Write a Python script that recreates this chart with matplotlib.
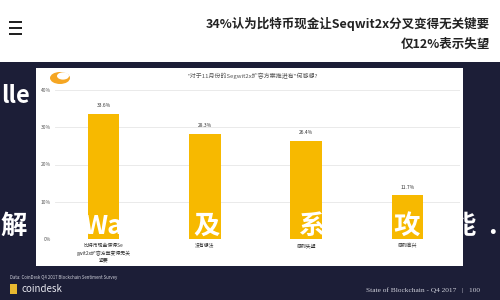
import matplotlib.pyplot as plt
from matplotlib.patches import Rectangle, Circle

plt.rcParams['font.family'] = ['Noto Sans CJK SC', 'DejaVu Sans']

# data
categories = ['比特币现金使得Se\ngwit2x扩容方案变得无关\n紧要', '没有想法', '感到失望', '感到高兴']
values = [33.6, 28.3, 26.4, 11.7]
value_labels = ['33.6%', '28.3%', '26.4%', '11.7%']
yticks = [0, 10, 20, 30, 40]
ytick_labels = ['0%', '10%', '20%', '30%', '40%']
# pieces of the white brush text laid over the slide
overlay_chars = ['解', 'Wa', '及', '系', '攻', '能', '.']
overlay_x = [14, 103, 207, 312, 407, 463, 492]

W, H = 500, 300
fig = plt.figure(figsize=(5, 3), dpi=100)
fig.patch.set_facecolor('white')

def fx(x):
    return x / W

def fy(y):
    return 1 - y / H

navy = '#1c1e37'
yellow = '#f7b900'

# dark slide background under the white header
fig.patches.append(Rectangle((0, 0), 1, fy(62), transform=fig.transFigure,
                             facecolor=navy, edgecolor='none', zorder=0))
# white chart panel
fig.patches.append(Rectangle((fx(36), fy(266)), fx(463 - 36), (266 - 68) / H,
                             transform=fig.transFigure, facecolor='white',
                             edgecolor='none', zorder=1))

# header: menu icon + title
for yy in (22, 28, 34):
    fig.patches.append(Rectangle((fx(9), fy(yy + 1)), fx(13), 2 / H,
                                 transform=fig.transFigure, facecolor='#222222',
                                 edgecolor='none', zorder=2))
fig.text(fx(490), fy(24), '34%认为比特币现金让Seqwit2x分叉变得无关键要', ha='right',
         va='center', fontsize=9, fontweight='bold', color='#222222')
fig.text(fx(490), fy(44), '仅12%表示失望', ha='right', va='center',
         fontsize=9, fontweight='bold', color='#222222')

# bar chart
ax = fig.add_axes([fx(55), fy(239), fx(460 - 55), (239 - 90) / H])
ax.set_zorder(3)
ax.patch.set_alpha(0)
x = range(len(values))
ax.bar(x, values, width=0.31, color=yellow, zorder=3)
for xi, v, lab in zip(x, values, value_labels):
    ax.text(xi, v + 1.5, lab, ha='center', va='bottom', fontsize=3.5, color='#333333')
ax.set_xlim(-0.48, 3.52)
ax.set_ylim(0, 40)
ax.set_yticks(yticks)
ax.set_yticklabels(ytick_labels, fontsize=3.5, color='#555555')
ax.set_xticks(list(x))
ax.set_xticklabels(categories, fontsize=3.5, color='#333333', linespacing=1.5)
ax.tick_params(length=0, pad=3)
ax.grid(axis='y', color='#e6e6e6', linewidth=0.6, zorder=0)
for s in ax.spines.values():
    s.set_visible(False)

# panel logo and question
fig.patches.append(Circle((fx(60), fy(78)), 10 / W, transform=fig.transFigure,
                          facecolor='#f5a623', edgecolor='none', zorder=4))
fig.patches.append(Circle((fx(63), fy(76)), 6 / W, transform=fig.transFigure,
                          facecolor='white', edgecolor='none', zorder=4))
fig.text(fx(188), fy(76), '"对于11月份的Segwit2x扩容方案推进有"何感想?', ha='left',
         va='center', fontsize=4.3, color='#555555', zorder=5)

# white brush-text overlay
fig.text(fx(1), fy(96), 'lle', ha='left', va='center', fontsize=17,
         fontweight='bold', color='white', zorder=6)
for ch, cx in zip(overlay_chars, overlay_x):
    fig.text(fx(cx), fy(226), ch, ha='center', va='center', fontsize=19,
             fontweight='bold', color='white', zorder=6,
             style='italic' if ch == 'Wa' else 'normal')

# footer
fig.text(fx(10), fy(278), 'Data: CoinDesk Q4 2017 Blockchain Sentiment Survey',
         ha='left', va='center', fontsize=3.1, color='#cfd0da')
fig.patches.append(Rectangle((fx(10), fy(294)), fx(7), 10 / H,
                             transform=fig.transFigure, facecolor='#e8b830',
                             edgecolor='none', zorder=2))
fig.text(fx(21), fy(289), 'coindesk', ha='left', va='center', fontsize=7,
         color='#e6e6ee')
fig.text(fx(480), fy(290), 'State of Blockchain - Q4 2017   |   100', ha='right',
         va='center', fontsize=5.3, color='#cfd0da', family='Liberation Serif')

fig.savefig('out.png', dpi=100)
